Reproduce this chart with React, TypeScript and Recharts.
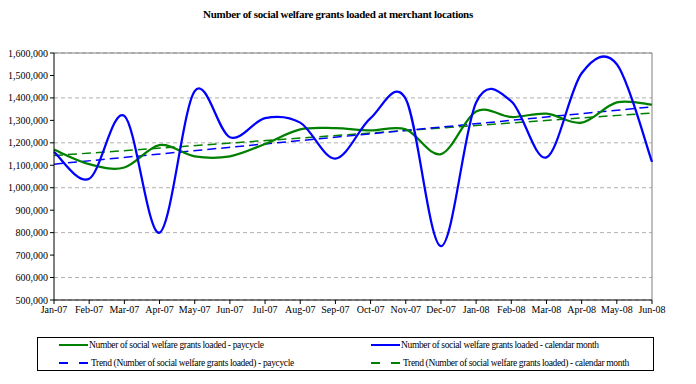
import React from 'react'
import {
  LineChart, Line, XAxis, YAxis, CartesianGrid, ReferenceLine
} from 'recharts'

const months = [
  'Jan-07', 'Feb-07', 'Mar-07', 'Apr-07', 'May-07', 'Jun-07', 'Jul-07', 'Aug-07', 'Sep-07',
  'Oct-07', 'Nov-07', 'Dec-07', 'Jan-08', 'Feb-08', 'Mar-08', 'Apr-08', 'May-08', 'Jun-08',
]

const paycycle = [
  1170000, 1105000, 1090000, 1190000, 1140000, 1140000, 1195000, 1260000, 1265000,
  1255000, 1260000, 1150000, 1340000, 1315000, 1330000, 1290000, 1380000, 1370000,
]

const calendarMonth = [
  1160000, 1040000, 1320000, 800000, 1430000, 1225000, 1310000, 1290000, 1130000,
  1310000, 1395000, 740000, 1380000, 1385000, 1135000, 1510000, 1550000, 1115000,
]

// linear trend lines: only the two end values, joined straight
const trendPaycycle = [1105000, 1360000]
const trendCalendar = [1143000, 1333000]

const yTicks = [500000, 600000, 700000, 800000, 900000, 1000000, 1100000, 1200000,
  1300000, 1400000, 1500000, 1600000]

const last = months.length - 1
const data = months.map((m, i) => ({
  month: m,
  paycycle: paycycle[i],
  calendar: calendarMonth[i],
  trendPay: i === 0 ? trendPaycycle[0] : i === last ? trendPaycycle[1] : null,
  trendCal: i === 0 ? trendCalendar[0] : i === last ? trendCalendar[1] : null,
}))

// Excel-like smoothed line (Catmull-Rom through every point)
function excelSmooth(context: any) {
  let pts: number[][] = []
  return {
    areaStart() {},
    areaEnd() {},
    lineStart() { pts = [] },
    point(x: number, y: number) { pts.push([+x, +y]) },
    lineEnd() {
      if (!pts.length) return
      context.moveTo(pts[0][0], pts[0][1])
      for (let i = 0; i < pts.length - 1; i++) {
        const p0 = pts[i - 1] || pts[i]
        const p1 = pts[i]
        const p2 = pts[i + 1]
        const p3 = pts[i + 2] || p2
        context.bezierCurveTo(
          p1[0] + (p2[0] - p0[0]) / 6, p1[1] + (p2[1] - p0[1]) / 6,
          p2[0] - (p3[0] - p1[0]) / 6, p2[1] - (p3[1] - p1[1]) / 6,
          p2[0], p2[1]
        )
      }
    },
  }
}

const font = '"Liberation Serif", "Times New Roman", serif'

const legendItems = [
  { label: 'Number of social welfare grants loaded - paycycle', color: '#008000', dashed: false, x: 59, y: 345 },
  { label: 'Number of social welfare grants loaded - calendar month', color: '#0000FF', dashed: false, x: 371, y: 345 },
  { label: 'Trend (Number of social welfare grants loaded) - paycycle', color: '#0000FF', dashed: true, x: 59, y: 363 },
  { label: 'Trend (Number of social welfare grants loaded) - calendar month', color: '#008000', dashed: true, x: 371, y: 363 },
]

export default function App() {
  return (
    <div style={{ position: 'absolute', left: 0, top: 0, width: 696, height: 384, background: '#fff', fontFamily: font }}>
      <div style={{
        position: 'absolute', top: 8, left: 0, width: 676, textAlign: 'center',
        fontSize: 11, fontWeight: 700, letterSpacing: -0.3, color: '#000',
      }}>
        Number of social welfare grants loaded at merchant locations
      </div>

      <LineChart width={696} height={384} data={data}
        margin={{ top: 53, right: 44, left: 0, bottom: 64 }}>
        <CartesianGrid vertical={false} stroke="#b0b0b0" strokeDasharray="4 3" />
        <XAxis dataKey="month" interval={0} stroke="#000" tickSize={4} height={20}
          tick={{ fontSize: 10, fill: '#000', fontFamily: font }} />
        <YAxis domain={[500000, 1600000]} ticks={yTicks} width={54} stroke="#000" tickSize={4}
          tickFormatter={(v: number) => v.toLocaleString('en-US')}
          tick={{ fontSize: 10, fill: '#000', fontFamily: font }} />
        <ReferenceLine y={1600000} stroke="#808080" />
        <ReferenceLine x="Jun-08" stroke="#808080" />
        <Line dataKey="trendCal" stroke="#008000" strokeWidth={1.5} strokeDasharray="9 5"
          dot={false} connectNulls isAnimationActive={false} />
        <Line dataKey="trendPay" stroke="#0000FF" strokeWidth={1.5} strokeDasharray="9 5"
          dot={false} connectNulls isAnimationActive={false} />
        <Line dataKey="paycycle" type={excelSmooth as any} stroke="#008000" strokeWidth={2.25}
          dot={false} isAnimationActive={false} />
        <Line dataKey="calendar" type={excelSmooth as any} stroke="#0000FF" strokeWidth={2.25}
          dot={false} isAnimationActive={false} />
      </LineChart>

      <div style={{
        position: 'absolute', left: 37, top: 337, width: 617, height: 34,
        border: '1px solid #000', boxSizing: 'border-box',
      }} />
      {legendItems.map(it => (
        <div key={it.label} style={{
          position: 'absolute', left: it.x, top: it.y - 7, height: 14,
          display: 'flex', alignItems: 'center', fontSize: 9.5, letterSpacing: -0.35, whiteSpace: 'nowrap',
        }}>
          {it.dashed ? (
            <div style={{ width: 29, display: 'flex', justifyContent: 'space-between' }}>
              <div style={{ width: 9, height: 1.5, background: it.color }} />
              <div style={{ width: 9, height: 1.5, background: it.color }} />
            </div>
          ) : (
            <div style={{ width: 29, height: 2.5, background: it.color }} />
          )}
          <span style={{ marginLeft: it.dashed ? 3 : 1 }}>{it.label}</span>
        </div>
      ))}
    </div>
  )
}
